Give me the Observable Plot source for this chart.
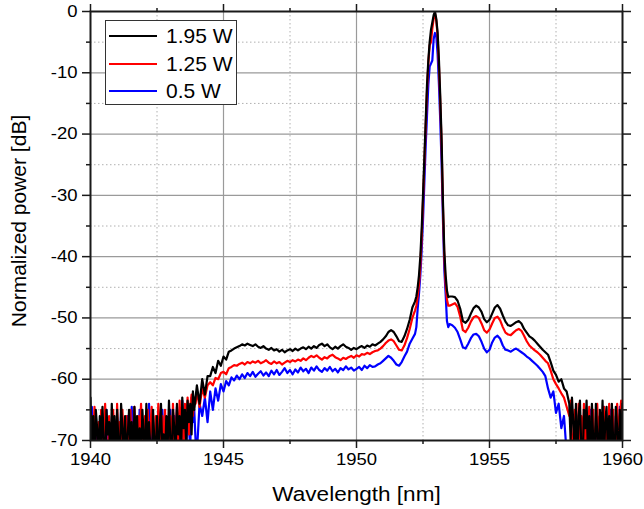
<!DOCTYPE html>
<html>
<head>
<meta charset="utf-8">
<script src="https://cdn.jsdelivr.net/npm/d3@7"></script>
<script src="https://cdn.jsdelivr.net/npm/@observablehq/plot@0.6"></script>
<style>
  html, body { margin: 0; padding: 0; background: #fff; }
  #wrap { position: relative; width: 644px; height: 509px; font-family: "Liberation Sans", Arial, sans-serif; }
  #legend { position: absolute; left: 105px; top: 20px; width: 132px; height: 85px; border: 1px solid #333; background: #fff; box-sizing: border-box; }
  .row { position: absolute; left: 0; height: 26px; display: flex; align-items: center; }
  .sw { width: 48px; height: 2px; margin-left: 3px; margin-right: 9px; }
  .lab { font-size: 21px; color: #000; line-height: 26px; }
</style>
</head>
<body>
<div id="wrap"><div id="legend"></div></div>
<script>
// ---- data ----
const seriesNames = ["1.95 W", "1.25 W", "0.5 W"];
const seriesColors = ["#000000", "#ff0000", "#0000ff"];

const xTicksMajor = [1940, 1945, 1950, 1955, 1960];
const xTicksMinor = [1942.5, 1947.5, 1952.5, 1957.5];
const yTicksMajor = [0, -10, -20, -30, -40, -50, -60, -70];
const yTicksMinor = [-5, -15, -25, -35, -45, -55, -65];

// wavelength samples [nm]
const wavelength = [
  // noisy floor, 0.05 nm
  1940.00,1940.05,1940.10,1940.15,1940.20,1940.25,1940.30,1940.35,1940.40,1940.45,
  1940.50,1940.55,1940.60,1940.65,1940.70,1940.75,1940.80,1940.85,1940.90,1940.95,
  1941.00,1941.05,1941.10,1941.15,1941.20,1941.25,1941.30,1941.35,1941.40,1941.45,
  1941.50,1941.55,1941.60,1941.65,1941.70,1941.75,1941.80,1941.85,1941.90,1941.95,
  1942.00,1942.05,1942.10,1942.15,1942.20,1942.25,1942.30,1942.35,1942.40,1942.45,
  1942.50,1942.55,1942.60,1942.65,1942.70,1942.75,1942.80,1942.85,1942.90,1942.95,
  1943.00,1943.05,1943.10,1943.15,1943.20,1943.25,1943.30,1943.35,1943.40,1943.45,
  1943.50,1943.55,1943.60,1943.65,1943.70,1943.75,1943.80,1943.85,1943.90,1943.95,
  // plateau, 0.1 nm
  1944.0,1944.1,1944.2,1944.3,1944.4,1944.5,1944.6,1944.7,1944.8,1944.9,
  1945.0,1945.1,1945.2,1945.3,1945.4,1945.5,1945.6,1945.7,1945.8,1945.9,
  1946.0,1946.1,1946.2,1946.3,1946.4,1946.5,1946.6,1946.7,1946.8,1946.9,
  1947.0,1947.1,1947.2,1947.3,1947.4,1947.5,1947.6,1947.7,1947.8,1947.9,
  1948.0,1948.1,1948.2,1948.3,1948.4,1948.5,1948.6,1948.7,1948.8,1948.9,
  1949.0,1949.1,1949.2,1949.3,1949.4,1949.5,1949.6,1949.7,1949.8,1949.9,
  1950.0,1950.1,1950.2,1950.3,1950.4,1950.5,1950.6,1950.7,1950.8,1950.9,
  1951.0,1951.1,1951.2,1951.3,1951.4,1951.5,1951.6,1951.7,1951.8,1951.9,
  1952.0,1952.1,1952.2,
  // peak, 0.05 nm
  1952.25,1952.30,1952.35,1952.40,1952.45,1952.50,1952.55,1952.60,1952.65,1952.70,
  1952.75,1952.80,1952.85,1952.90,1952.95,1953.00,1953.05,1953.10,1953.15,1953.20,
  1953.25,1953.30,1953.35,1953.40,1953.45,1953.50,
  // shoulder, 0.1 nm
  1953.6,1953.7,1953.8,1953.9,1954.0,1954.1,1954.2,1954.3,1954.4,1954.5,
  1954.6,1954.7,1954.8,1954.9,1955.0,1955.1,1955.2,1955.3,1955.4,1955.5,
  1955.6,1955.7,1955.8,1955.9,1956.0,1956.1,1956.2,1956.3,1956.4,1956.5,
  1956.6,1956.7,1956.8,1956.9,1957.0,1957.1,1957.2,1957.3,1957.4,1957.5,
  1957.6,1957.7,1957.8,1957.9,
  // noisy floor, 0.05 nm
  1958.00,1958.05,1958.10,1958.15,1958.20,1958.25,1958.30,1958.35,1958.40,1958.45,
  1958.50,1958.55,1958.60,1958.65,1958.70,1958.75,1958.80,1958.85,1958.90,1958.95,
  1959.00,1959.05,1959.10,1959.15,1959.20,1959.25,1959.30,1959.35,1959.40,1959.45,
  1959.50,1959.55,1959.60,1959.65,1959.70,1959.75,1959.80,1959.85,1959.90,1959.95,
  1960.00
];

// normalized power [dB], 1.95 W
const power195 = [
  -63,-72,-66,-75,-65,-68,-73,-66,-71,-64.5,
  -70,-76,-65,-69,-67,-74,-64,-71,-66,-73,
  -65,-70,-75,-64,-68,-72,-66,-74,-69,-65,
  -71,-67,-76,-64.5,-70,-66,-73,-68,-75,-65,
  -69,-72,-64,-74,-67,-71,-76,-65,-70,-73,
  -66,-75,-68,-64,-72,-69,-74,-66,-71,-63.5,
  -70,-74,-65,-68,-72,-64,-69,-66,-73,-63,
  -68,-65,-71,-63.5,-67,-64,-69,-62,-65,-63,
  -61,-64,-60,-62.5,-59.5,-59.5,-58,-59,-57,-57.8,
  -56.3,-56.8,-55.5,-55.3,-55,-54.8,-54.6,-54.3,-54.5,-54.2,
  -54.4,-54.6,-54.3,-54.7,-54.9,-54.6,-55.0,-55.2,-54.9,-55.3,
  -55.1,-55.5,-55.2,-55.6,-55.3,-55.1,-55.4,-55.0,-55.3,-55.0,
  -54.8,-55.1,-54.7,-55.0,-54.6,-54.9,-54.4,-54.2,-54.6,-54.3,
  -54.8,-55.1,-54.7,-55.0,-54.6,-54.3,-54.7,-54.9,-55.2,-54.9,
  -55.1,-54.8,-54.6,-54.9,-54.5,-54.7,-54.3,-54.5,-54.2,-53.9,
  -53.5,-53.0,-52.3,-52.0,-52.3,-53.0,-53.8,-53.9,-53.0,-51.8,
  -50.3,-48.3,-47.3,
  -46.5,-45,-43,-40,-35.5,-30,-24,-18,-12,-8,
  -5,-3,-1.8,-0.6,0,-1.2,-3.5,-8,-14,-21,
  -31,-39,-43,-45.5,-46.6,-46.5,
  -46.5,-46.6,-47.2,-48.5,-50.5,-50.8,-50.3,-49.3,-48.4,-48.0,
  -48.3,-49.0,-50.2,-50.7,-50.3,-49.3,-48.3,-47.9,-48.5,-49.6,
  -50.6,-51.2,-51.3,-51.0,-50.7,-50.5,-50.9,-51.8,-52.4,-53.0,
  -53.3,-53.7,-54.2,-54.7,-55.2,-55.6,-56.0,-57.2,-58.6,-59.3,
  -60.4,-60.0,-61.5,-62.0,
  -64,-70,-63,-67,-72,-64,-75,-66,-63.5,-71,
  -74,-65,-68,-63.5,-72,-66,-76,-64,-70,-73,
  -64,-69,-75,-65,-71,-63.5,-74,-67,-64.5,-72,
  -66,-75,-64,-70,-73,-64.5,-68,-76,-65,-71,
  -64
];

// normalized power [dB], 1.25 W
const power125 = [
  -74,-66,-70,-64.5,-72,-75,-67,-71,-65,-73,
  -68,-64,-72,-75,-66,-70,-73,-65,-69,-76,
  -64,-71,-67,-74,-65,-70,-72,-66,-75,-68,
  -65,-73,-69,-64.5,-71,-76,-66,-70,-64,-72,
  -74,-66,-70,-65,-73,-68,-64.5,-72,-75,-66,
  -71,-64,-69,-73,-66,-75,-65,-70,-67,-72,
  -66,-73,-64,-70,-68,-65,-72,-63.5,-69,-66,
  -71,-64,-67,-63,-69,-64.5,-62.5,-66,-63,-64,
  -62,-64.5,-61.5,-63,-61,-60.5,-61,-59.8,-60,-59,
  -58.8,-59.2,-58.2,-58,-57.7,-57.8,-57.5,-57.3,-57.6,-57.2,
  -57.4,-57.1,-57.3,-57.0,-57.4,-57.2,-56.9,-57.3,-57.5,-57.1,
  -57.4,-57.2,-57.6,-57.3,-57.0,-57.2,-56.9,-57.1,-56.8,-57.0,
  -56.6,-56.9,-56.5,-56.2,-56.4,-56.1,-56.5,-56.8,-56.4,-56.6,
  -56.2,-56.0,-56.4,-56.6,-56.9,-56.5,-56.7,-56.4,-56.2,-56.5,
  -56.1,-56.3,-55.9,-56.0,-55.7,-55.9,-55.6,-55.4,-55.3,-55.0,
  -54.6,-54.1,-53.7,-53.5,-53.8,-54.5,-55.2,-55.3,-54.5,-53.3,
  -51.8,-50.0,-48.8,
  -48,-46.5,-44.5,-41.5,-37,-31,-25,-19,-13,-8.5,
  -5.5,-5,-2.8,-1.2,-0.3,-1.5,-4,-9,-15,-22,
  -32,-40,-44.5,-47,-48,-48,
  -47.8,-47.6,-48.2,-49.8,-52.0,-52.3,-51.6,-50.6,-49.9,-49.7,
  -50.0,-50.9,-52.0,-52.4,-51.9,-50.9,-50.0,-49.8,-50.4,-51.5,
  -52.4,-52.7,-52.8,-52.4,-52.0,-51.8,-52.1,-52.9,-53.8,-54.5,
  -54.9,-55.3,-55.6,-56.0,-56.5,-57.0,-57.4,-58.6,-60.0,-60.8,
  -61.5,-62.3,-63.0,-64.5,
  -66,-63.5,-70,-73,-65,-68,-75,-64,-71,-66,
  -72,-64,-75,-67,-70,-64.5,-73,-69,-65,-76,
  -68,-64,-72,-66,-74,-70,-64.5,-75,-67,-71,
  -64,-73,-68,-65,-76,-70,-64,-72,-66,-63.5,
  -68
];

// normalized power [dB], 0.5 W
const power05 = [
  -72,-64.5,-69,-75,-66,-73,-70,-76,-67,-71,
  -74,-68,-65,-72,-76,-69,-73,-66,-71,-75,
  -67,-72,-74,-65,-70,-76,-68,-73,-66,-71,
  -75,-64.5,-70,-73,-67,-74,-69,-65,-72,-76,
  -68,-71,-66,-74,-64,-70,-75,-67,-72,-69,
  -73,-66,-71,-76,-65,-70,-74,-68,-72,-67,
  -65,-73,-69,-66,-72,-64.5,-70,-67,-74,-63.5,
  -69,-66,-72,-64,-68,-71,-63,-67,-65,-70,
  -72,-64,-66,-63,-67,-62,-65,-61.5,-63.5,-60.8,
  -62,-60.3,-61,-59.7,-60.2,-59.4,-60,-59.2,-59.8,-59.0,
  -59.5,-58.8,-59.6,-59.1,-58.7,-59.4,-58.9,-59.5,-58.6,-59.2,
  -58.5,-59.3,-58.8,-58.2,-59.0,-58.5,-59.2,-58.4,-58.9,-58.1,
  -58.7,-58.3,-59.0,-58.1,-58.6,-57.9,-58.5,-58.8,-58.2,-58.6,
  -58.0,-58.7,-58.3,-58.9,-58.2,-58.5,-57.9,-58.4,-58.1,-58.6,
  -58.3,-58.0,-58.5,-57.8,-58.2,-57.7,-58.0,-57.9,-57.6,-57.4,
  -57.0,-56.6,-56.2,-56.5,-57.0,-57.6,-57.8,-57.2,-56.3,-55.5,
  -54.2,-53.4,-52.6,
  -51.5,-48.5,-46,-43,-39,-34,-28,-22,-17,-12,
  -9,-8.5,-8,-4.5,-3.5,-4,-7,-12,-18,-25,
  -34,-42,-46,-50.5,-51.5,-51,
  -51.2,-51.6,-52.3,-53.5,-54.8,-55.0,-54.2,-53.3,-52.7,-52.6,
  -53.0,-53.9,-55.0,-55.6,-55.2,-54.0,-53.2,-52.9,-53.4,-54.5,
  -55.2,-55.3,-55.5,-55.2,-55.0,-55.3,-55.6,-55.9,-56.3,-56.6,
  -57.0,-57.4,-57.8,-58.3,-58.8,-59.5,-61.5,-63.0,-62,-65.5,
  -64,-68,-66,-72,
  -75,-72,-76,-70,-74,-77,-71,-73,-68,-75,
  -72,-76,-66,-73,-70,-75,-65,-72,-76,-69,
  -74,-66,-71,-75,-68,-73,-64.5,-70,-76,-67,
  -72,-65,-74,-69,-76,-66,-71,-73,-64.5,-70,
  -74
];

const seriesValues = [power195, power125, power05];

// ---- build long table ----
const rows = [];
// draw order: lowest power first so 1.95 W ends on top
[2, 1, 0].forEach(s => {
  wavelength.forEach((w, i) => rows.push({ series: seriesNames[s], wl: w, p: seriesValues[s][i] }));
});

const font = '"Liberation Sans", Arial, sans-serif';
const frameColor = "#1a1a1a";

const chart = Plot.plot({
  width: 644,
  height: 509,
  marginLeft: 90,
  marginRight: 22,
  marginTop: 11,
  marginBottom: 69,
  style: { fontFamily: font, color: "#000", background: "#fff", overflow: "visible" },
  x: { domain: [1940, 1960] },
  y: { domain: [-70, 0] },
  color: { domain: seriesNames, range: seriesColors },
  marks: [
    Plot.gridX({ ticks: xTicksMinor, stroke: "#b0b0b0", strokeOpacity: 1, strokeWidth: 1, strokeDasharray: "1.5,2.5" }),
    Plot.gridY({ ticks: yTicksMinor, stroke: "#b0b0b0", strokeOpacity: 1, strokeWidth: 1, strokeDasharray: "1.5,2.5" }),
    Plot.gridX({ ticks: xTicksMajor.slice(1, -1), stroke: "#9a9a9a", strokeOpacity: 1, strokeWidth: 1.2 }),
    Plot.gridY({ ticks: yTicksMajor.slice(1, -1), stroke: "#9a9a9a", strokeOpacity: 1, strokeWidth: 1.2 }),
    Plot.line(rows, { x: "wl", y: "p", z: "series", stroke: "series", strokeWidth: 2.2, clip: true }),
    Plot.frame({ stroke: frameColor, strokeWidth: 2 }),
    // bottom axis with labels
    Plot.axisX({ anchor: "bottom", ticks: xTicksMajor, tickSize: 8, tickPadding: 5, tickFormat: d => String(d), fontSize: 16.5, stroke: frameColor, strokeWidth: 1.5, label: null }),
    Plot.axisX({ anchor: "bottom", ticks: xTicksMinor, tickSize: 4, tickFormat: () => "", stroke: frameColor, strokeWidth: 1.5, label: null }),
    // top axis ticks only
    Plot.axisX({ anchor: "top", ticks: xTicksMajor, tickSize: 8, tickFormat: () => "", stroke: frameColor, strokeWidth: 1.5, label: null }),
    Plot.axisX({ anchor: "top", ticks: xTicksMinor, tickSize: 4, tickFormat: () => "", stroke: frameColor, strokeWidth: 1.5, label: null }),
    // left axis with labels
    Plot.axisY({ anchor: "left", ticks: yTicksMajor, tickSize: 8, tickPadding: 5, tickFormat: d => String(d), fontSize: 16.5, stroke: frameColor, strokeWidth: 1.5, label: null }),
    Plot.axisY({ anchor: "left", ticks: yTicksMinor, tickSize: 4, tickFormat: () => "", stroke: frameColor, strokeWidth: 1.5, label: null }),
    // right axis ticks only
    Plot.axisY({ anchor: "right", ticks: yTicksMajor, tickSize: 8, tickFormat: () => "", stroke: frameColor, strokeWidth: 1.5, label: null }),
    Plot.axisY({ anchor: "right", ticks: yTicksMinor, tickSize: 4, tickFormat: () => "", stroke: frameColor, strokeWidth: 1.5, label: null }),
    // axis titles
    Plot.text(["Wavelength [nm]"], { frameAnchor: "bottom", dy: 54, fontSize: 20.5, fill: "#000", textAnchor: "middle", lineAnchor: "middle" }),
    Plot.text(["Normalized power [dB]"], { frameAnchor: "left", dx: -71, dy: -5, rotate: -90, fontSize: 21, fill: "#000", textAnchor: "middle", lineAnchor: "middle" })
  ]
});

document.getElementById("wrap").prepend(chart);

// slight horizontal widening of horizontal texts, as in the reference
function widen(nodes, k) {
  nodes.forEach(t => {
    const L = t.getComputedTextLength();
    if (L > 0) {
      t.setAttribute("textLength", (L * k).toFixed(2));
      t.setAttribute("lengthAdjust", "spacingAndGlyphs");
    }
  });
}
widen(chart.querySelectorAll('g[aria-label="x-axis tick label"] text, g[aria-label="y-axis tick label"] text'), 1.12);
widen(Array.from(chart.querySelectorAll("text")).filter(t => t.textContent === "Wavelength [nm]"), 1.1);

// ---- legend (inside the plot area, top-left) ----
const legend = document.getElementById("legend");
seriesNames.forEach((name, i) => {
  const row = document.createElement("div");
  row.className = "row";
  row.style.top = (2 + i * 27.5) + "px";
  const sw = document.createElement("div");
  sw.className = "sw";
  sw.style.background = seriesColors[i];
  const lab = document.createElement("span");
  lab.className = "lab";
  lab.textContent = name;
  row.append(sw, lab);
  legend.append(row);
});
</script>
</body>
</html>
